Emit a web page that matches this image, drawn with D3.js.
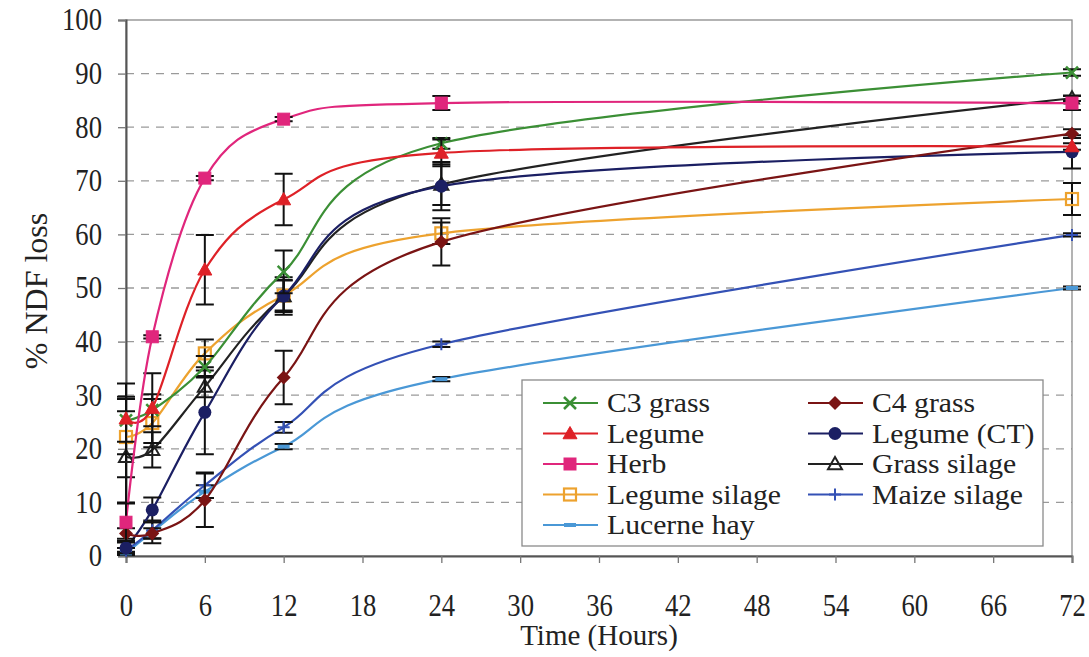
<!DOCTYPE html>
<html>
<head>
<meta charset="utf-8">
<script src="https://cdn.jsdelivr.net/npm/d3@7"></script>
<style>
  body { margin: 0; background: #fff; }
  svg text { font-family: "Liberation Serif", "Times New Roman", serif; fill: #222; }
</style>
</head>
<body>
<script>
// sampling times (hours)
const hours = [0, 2, 6, 12, 24, 72];
const xTicks = [0, 6, 12, 18, 24, 30, 36, 42, 48, 54, 60, 66, 72];
const yTicks = [0, 10, 20, 30, 40, 50, 60, 70, 80, 90, 100];

// % NDF loss per forage type
const c3Grass      = [25.3, 27.2, 35.3, 53.0, 77.0, 90.2];
const c4Grass      = [4.2, 4.2, 10.4, 33.3, 58.6, 78.8];
const legume       = [25.6, 27.6, 53.4, 66.5, 75.2, 76.4];
const legumeCT     = [1.5, 8.6, 26.8, 48.5, 69.0, 75.4];
const herb         = [6.3, 40.9, 70.5, 81.5, 84.5, 84.5];
const grassSilage  = [18.5, 19.8, 31.6, 48.5, 69.3, 85.4];
const legumeSilage = [22.2, 24.8, 37.8, 48.6, 60.2, 66.6];
const maizeSilage  = [1.0, 4.8, 13.2, 24.0, 39.5, 59.9];
const lucerneHay   = [0.5, 4.5, 12.0, 20.4, 33.0, 50.0];

// error bar half widths
const c3GrassErr      = [4.0, 3.0, 2.0, 4.0, 1.0, 0.6];
const c4GrassErr      = [1.0, 1.0, 5.0, 5.0, 4.4, 0.8];
const legumeErr       = [6.6, 6.5, 6.5, 4.8, 2.5, 0.6];
const legumeCTErr     = [1.0, 2.3, 7.8, 3.0, 4.5, 3.1];
const herbErr         = [3.5, 0.3, 0.4, 0.4, 1.3, 1.3];
const grassSilageErr  = [8.5, 3.3, 2.0, 3.5, 3.8, 0.5];
const legumeSilageErr = [7.5, 4.5, 2.6, 2.8, 2.0, 3.0];
const maizeSilageErr  = [0.5, 1.5, 2.4, 1.0, 0.5, 0.3];
const lucerneHayErr   = [0.3, 2.1, 1.2, 0.5, 0.4, 0.3];

const series = [
  {name: "C3 grass", values: c3Grass, err: c3GrassErr, color: "#3b8f35", marker: "x"},
  {name: "C4 grass", values: c4Grass, err: c4GrassErr, color: "#7a1414", marker: "diamond"},
  {name: "Legume", values: legume, err: legumeErr, color: "#de2127", marker: "triangle"},
  {name: "Legume (CT)", values: legumeCT, err: legumeCTErr, color: "#1b1f63", marker: "circle"},
  {name: "Herb", values: herb, err: herbErr, color: "#e0267c", marker: "square"},
  {name: "Grass silage", values: grassSilage, err: grassSilageErr, color: "#222222", marker: "openTriangle"},
  {name: "Legume silage", values: legumeSilage, err: legumeSilageErr, color: "#eda22e", marker: "openSquare"},
  {name: "Maize silage", values: maizeSilage, err: maizeSilageErr, color: "#3451b5", marker: "plus"},
  {name: "Lucerne hay", values: lucerneHay, err: lucerneHayErr, color: "#4a98d6", marker: "dash"}
];
// drawing order (back to front)
const drawOrder = ["Lucerne hay", "Maize silage", "Legume silage", "Grass silage", "Legume (CT)", "C4 grass", "C3 grass", "Legume", "Herb"];

const width = 1089, height = 657;
const margin = {top: 20, right: 17, bottom: 101, left: 126};
const serif = "'Liberation Serif', 'Times New Roman', serif";

const svg = d3.select("body").append("svg").attr("width", width).attr("height", height);

const x = d3.scaleLinear().domain([0, 72]).range([margin.left, width - margin.right]);
const y = d3.scaleLinear().domain([0, 100]).range([height - margin.bottom, margin.top]);

// dashed grid
svg.append("g").selectAll("line").data(yTicks.filter(d => d > 0 && d < 100)).join("line")
  .attr("x1", x(0)).attr("x2", x(72))
  .attr("y1", d => y(d)).attr("y2", d => y(d))
  .attr("stroke", "#9a9a9a").attr("stroke-width", 1.3).attr("stroke-dasharray", "8,7");

// plot frame
svg.append("rect").attr("x", x(0)).attr("y", y(100))
  .attr("width", x(72) - x(0)).attr("height", y(0) - y(100))
  .attr("fill", "none").attr("stroke", "#8a8a8a").attr("stroke-width", 1.3);

// axes
const xAxis = svg.append("g").attr("transform", "translate(0," + y(0) + ")")
  .call(d3.axisBottom(x).tickValues(xTicks).tickSize(7).tickPadding(31));
const yAxis = svg.append("g").attr("transform", "translate(" + x(0) + ",0)")
  .call(d3.axisLeft(y).tickValues(yTicks).tickSize(8).tickPadding(14));
for (const ax of [xAxis, yAxis]) {
  ax.select(".domain").attr("stroke", "#555").attr("stroke-width", 2);
  ax.selectAll(".tick line").attr("stroke", "#777").attr("stroke-width", 1.3);
  ax.selectAll(".tick text").attr("font-size", 31).attr("fill", "#222")
    .style("font-family", serif);
}
// labels in the source are a bit condensed
xAxis.selectAll(".tick text").attr("transform", "scale(0.86,1)");
yAxis.selectAll(".tick text").attr("transform", "scale(0.86,1)").attr("x", -24 / 0.86);

// axis titles
svg.append("text").attr("x", (x(0) + x(72)) / 2).attr("y", 645)
  .attr("text-anchor", "middle").attr("font-size", 29).style("font-family", serif).text("Time (Hours)");
svg.append("text").attr("transform", "translate(47," + (y(50) + 3) + ") rotate(-90)")
  .attr("text-anchor", "middle").attr("font-size", 32).style("font-family", serif).text("% NDF loss");

function drawMarker(g, type, color, cx, cy) {
  const s = 6;
  if (type === "x") {
    g.append("path").attr("d", `M${cx - s},${cy - s}L${cx + s},${cy + s}M${cx - s},${cy + s}L${cx + s},${cy - s}`)
      .attr("stroke", color).attr("stroke-width", 2.5).attr("fill", "none");
  } else if (type === "plus") {
    g.append("path").attr("d", `M${cx - s},${cy}L${cx + s},${cy}M${cx},${cy - s}L${cx},${cy + s}`)
      .attr("stroke", color).attr("stroke-width", 2).attr("fill", "none");
  } else if (type === "dash") {
    g.append("path").attr("d", `M${cx - 6},${cy}L${cx + 6},${cy}`)
      .attr("stroke", color).attr("stroke-width", 4).attr("fill", "none");
  } else if (type === "square" || type === "openSquare") {
    const open = type === "openSquare";
    g.append("rect").attr("x", cx - s).attr("y", cy - s).attr("width", 2 * s).attr("height", 2 * s)
      .attr("fill", open ? "none" : color).attr("stroke", color).attr("stroke-width", open ? 2.2 : 1);
  } else if (type === "triangle" || type === "openTriangle") {
    const open = type === "openTriangle";
    const r = 7;
    g.append("path").attr("d", `M${cx},${cy - r}L${cx + r},${cy + r * 0.75}L${cx - r},${cy + r * 0.75}Z`)
      .attr("fill", open ? "none" : color).attr("stroke", color).attr("stroke-width", open ? 2 : 1);
  } else if (type === "diamond") {
    g.append("path").attr("d", `M${cx},${cy - 7}L${cx + 7},${cy}L${cx},${cy + 7}L${cx - 7},${cy}Z`)
      .attr("fill", color);
  } else if (type === "circle") {
    g.append("circle").attr("cx", cx).attr("cy", cy).attr("r", 6.5).attr("fill", color);
  }
}

// Excel-style smoothing (uniform Catmull-Rom)
const line = d3.line().x(d => x(d[0])).y(d => y(d[1])).curve(d3.curveCardinal.tension(0));

const plot = svg.append("g");
for (const name of drawOrder) {
  const s = series.find(d => d.name === name);
  const pts = hours.map((h, i) => [h, s.values[i]]);
  const g = plot.append("g");
  g.append("path").attr("d", line(pts)).attr("fill", "none")
    .attr("stroke", s.color).attr("stroke-width", 2.2);
  // error bars
  hours.forEach((h, i) => {
    const v = s.values[i], e = s.err[i];
    const px = x(h), top = y(v + e), bot = y(v - e);
    g.append("path").attr("d", `M${px},${top}L${px},${bot}M${px - 9},${top}L${px + 9},${top}M${px - 9},${bot}L${px + 9},${bot}`)
      .attr("stroke", "#111").attr("stroke-width", 2).attr("fill", "none");
  });
  hours.forEach((h, i) => drawMarker(g, s.marker, s.color, x(h), y(s.values[i])));
}

// legend
const legend = svg.append("g");
legend.append("rect").attr("x", 522).attr("y", 380).attr("width", 521).attr("height", 166)
  .attr("fill", "#fff").attr("stroke", "#8a8a8a").attr("stroke-width", 1.3);
const legendCols = [[0, 2, 4, 6, 8], [1, 3, 5, 7]];
legendCols.forEach((col, ci) => {
  const lx = ci === 0 ? 543 : 808;
  col.forEach((si, ri) => {
    const s = series[si];
    const ly = 403 + ri * 30.5;
    legend.append("line").attr("x1", lx).attr("x2", lx + 55).attr("y1", ly).attr("y2", ly)
      .attr("stroke", s.color).attr("stroke-width", 2.2);
    drawMarker(legend, s.marker, s.color, lx + 27, ly);
    legend.append("text").attr("transform", "translate(" + (lx + 64) + "," + (ly + 9) + ") scale(1.1,1)")
      .attr("font-size", 27).style("font-family", serif).text(s.name);
  });
});
</script>
</body>
</html>
